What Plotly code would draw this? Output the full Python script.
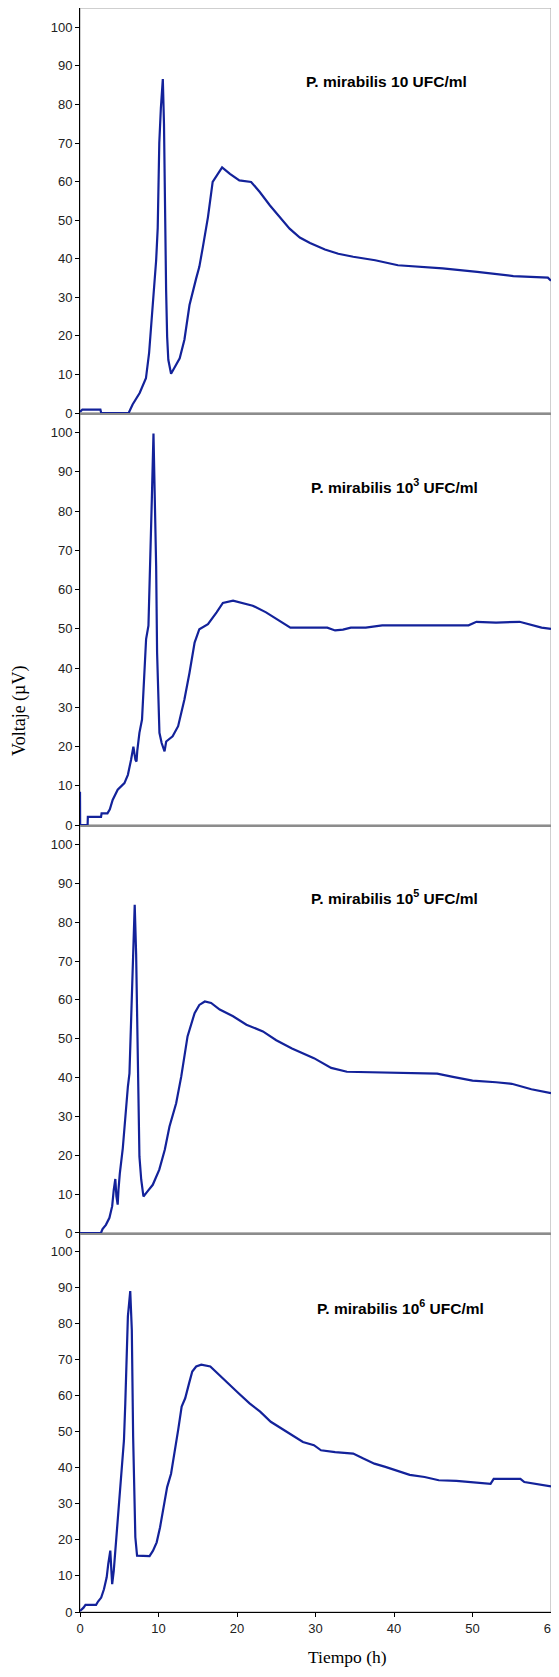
import plotly.graph_objects as go

# ---- data (time in h, voltage in µV) ----
t1 = [0, 0.3, 1.0, 2.0, 2.6, 2.7, 6.2, 6.7, 7.6, 8.4, 8.8, 9.3, 9.7, 9.9, 10.1, 10.3, 10.55, 10.7, 10.8,
      10.97, 11.1, 11.25, 11.6, 12.0, 12.7, 13.3, 13.95, 14.8, 15.2, 15.65, 16.3, 16.9, 17.8, 18.1, 19.1,
      20.3, 21.8, 22.9, 24.2, 25.4, 26.7, 28.0, 29.3, 31.2, 32.9, 34.8, 37.6, 40.5, 46.2, 50.6, 55.2, 59.6, 60]
v1 = [0.3, 0.9, 0.9, 0.8, 0.9, 0, 0, 2.2, 5.2, 9.0, 15.5, 28.9, 39.6, 48, 70, 79, 86.6, 75, 51.7,
      31.9, 19.8, 13.8, 10.2, 11.6, 14.2, 19, 28, 34.9, 37.9, 43, 50.8, 59.9, 62.9, 63.7, 62,
      60.3, 59.9, 57.3, 53.8, 50.8, 47.8, 45.5, 44.1, 42.4, 41.3, 40.5, 39.6, 38.3, 37.5, 36.6, 35.5, 35.1, 34.3]

t2 = [0, 0.02, 0.97, 1.0, 2.68, 2.75, 3.5, 3.8, 4.16, 4.8, 5.66, 6.1, 6.5, 6.8, 7.06, 7.2, 7.3, 7.57, 7.9,
      8.13, 8.42, 8.72, 8.95, 9.15, 9.36, 9.57, 9.7, 9.82, 9.95, 10.12, 10.4, 10.77, 10.98, 11.8, 12.5,
      13.3, 13.95, 14.6, 15.2, 16.3, 17.4, 18.2, 19.5, 20.8, 22.0, 23.7, 25.2, 25.9, 26.8, 31.5, 32.5,
      33.5, 34.5, 36.4, 38.5, 49.5, 50.5, 53.0, 56.0, 58.8, 60]
v2 = [8.5, 0, 0, 2.1, 2.1, 3.0, 3.0, 4.0, 6.4, 9.0, 10.7, 12.8, 16.6, 20, 16.6, 16.2, 19, 23.5, 26.9,
      36.3, 47.4, 50.8, 66, 83, 99.8, 83, 66, 44, 32, 23.5, 20.9, 18.8, 21.3, 22.6, 25.2,
      32, 38.8, 46.5, 49.9, 51.2, 54.2, 56.6, 57.2, 56.6, 55.9, 54.2, 52.3, 51.6, 50.3, 50.3, 49.6,
      49.8, 50.3, 50.3, 50.9, 50.9, 51.8, 51.6, 51.8, 50.3, 50.0]

t3 = [0, 2.67, 2.87, 3.3, 3.75, 4.1, 4.3, 4.5, 4.64, 4.8, 4.9, 5.07, 5.45, 5.8, 6.1, 6.3, 6.5, 6.65, 6.8,
      6.97, 7.15, 7.28, 7.4, 7.57, 7.8, 8.08, 8.6, 9.27, 10.1, 10.8, 11.4, 12.25, 12.9, 13.3, 13.7, 14.6,
      15.2, 15.9, 16.7, 17.8, 19.5, 21.2, 23.3, 25.0, 27.0, 29.8, 32.0, 34.0, 40.0, 45.5, 47.5, 50.0,
      53.0, 55.0, 57.5, 59.0, 60]
v3 = [0, 0, 1.0, 2.1, 3.9, 6.9, 11.1, 13.9, 9.4, 7.3, 11.1, 15.3, 21.8, 30.9, 37.7, 41.1, 55.7, 67.6, 77.1,
      84.5, 71.9, 54.9, 33.4, 19.7, 13.7, 9.4, 10.7, 12.4, 16.3, 21.4, 27.4, 33.4, 40.3, 45.5, 50.6, 56.6,
      58.7, 59.6, 59.2, 57.5, 55.8, 53.6, 51.9, 49.6, 47.5, 45.0, 42.5, 41.5, 41.2, 41.0, 40.2, 39.2,
      38.8, 38.4, 37.0, 36.5, 36.0]

t4 = [0, 0.45, 0.7, 2.05, 2.3, 2.7, 3.05, 3.4, 3.6, 3.86, 4.0, 4.1, 4.3, 4.55, 4.77, 5.1, 5.36, 5.6, 5.77,
      5.95, 6.1, 6.4, 6.6, 6.77, 6.9, 7.05, 7.27, 8.86, 9.3, 9.77, 10.2, 10.7, 11.1, 11.6, 12.05, 12.5,
      12.95, 13.4, 13.9, 14.3, 14.8, 15.45, 16.6, 17.5, 18.9, 20.2, 21.6, 22.95, 24.3, 25.7, 27.05, 28.4,
      29.8, 30.7, 32.5, 34.8, 36.1, 37.5, 38.9, 40.2, 42.0, 43.9, 45.7, 47.95, 49.8, 52.3, 52.7, 56.1,
      56.6, 58.9, 60]
v4 = [0.3, 1.2, 2.0, 2.0, 2.9, 4.0, 6.3, 9.6, 13.3, 17, 11.4, 7.7, 11.4, 18.8, 24.4, 33.7, 42, 47.6, 57.8,
      69.9, 81.9, 88.9, 78.2, 48.5, 30, 20.7, 15.6, 15.5, 17, 19.3, 23.5, 30, 34.6, 38.3, 43.9, 50.4,
      56.9, 59.2, 63.4, 66.6, 68, 68.5, 68, 66.1, 63.4, 60.6, 57.8, 55.5, 52.7, 50.8, 49, 47.1,
      46.2, 44.8, 44.3, 43.9, 42.5, 41.1, 40.2, 39.2, 38, 37.4, 36.5, 36.3, 36, 35.5, 36.9, 36.9,
      36, 35.1, 34.8]

labels = ["<b>P. mirabilis 10 UFC/ml</b>",
          "<b>P. mirabilis 10<sup>3</sup> UFC/ml</b>",
          "<b>P. mirabilis 10<sup>5</sup> UFC/ml</b>",
          "<b>P. mirabilis 10<sup>6</sup> UFC/ml</b>"]
label_pos = [(39, 86), (40, 86.5), (40, 86.5), (40.8, 84.4)]

y_ticks = list(range(0, 101, 10))
x_ticks = list(range(0, 61, 10))

series = [(t1, v1), (t2, v2), (t3, v3), (t4, v4)]
domains = [[0.7475, 1.0], [0.4906, 0.7475], [0.2363, 0.4906], [0.0, 0.2363]]

LINE = "#13229a"
FONT = "Liberation Sans, Arial, sans-serif"

fig = go.Figure()
layout = dict(
    width=551, height=1661,
    margin=dict(l=72, r=8, t=0, b=57),
    paper_bgcolor="white", plot_bgcolor="white",
    showlegend=False,
)
shapes = []
annotations = []
for i, (tt, vv) in enumerate(series):
    n = i + 1
    xa = "x" if n == 1 else f"x{n}"
    ya = "y" if n == 1 else f"y{n}"
    fig.add_trace(go.Scatter(x=tt, y=vv, mode="lines", xaxis=xa, yaxis=ya,
                             line=dict(color=LINE, width=2.2)))
    last = (n == 4)
    xkey = "xaxis" if n == 1 else f"xaxis{n}"
    ykey = "yaxis" if n == 1 else f"yaxis{n}"
    layout[xkey] = dict(
        domain=[0, 1], anchor=ya, range=[0, 60], showgrid=False, zeroline=False,
        showline=True, linecolor="black" if last else "#8c8c8c", linewidth=1 if last else 2,
        ticks="outside" if last else "", ticklen=4, tickcolor="black",
        tickvals=x_ticks if last else [], showticklabels=last,
        tickfont=dict(family=FONT, size=13, color="#222"),
    )
    layout[ykey] = dict(
        domain=domains[i], anchor=xa, range=[0, 105], showgrid=False, zeroline=False,
        showline=True, linecolor="black", linewidth=1,
        ticks="outside", ticklen=4, tickcolor="black", tickvals=y_ticks,
        tickfont=dict(family=FONT, size=13, color="#222"),
    )
    shapes.append(dict(type="rect", xref="paper", yref="paper", x0=0, x1=1,
                       y0=domains[i][0], y1=domains[i][1],
                       line=dict(color="#a0a0a0", width=1), layer="below"))
    annotations.append(dict(x=label_pos[i][0], y=label_pos[i][1], xref=xa, yref=ya,
                            text=labels[i], showarrow=False,
                            font=dict(family=FONT, size=15.5, color="black")))

annotations.append(dict(x=-0.1295, y=0.5617, xref="paper", yref="paper", text="Voltaje (µV)",
                        textangle=-90, showarrow=False, xanchor="center", yanchor="middle",
                        font=dict(family="Liberation Serif, Times New Roman, serif", size=18, color="black")))
annotations.append(dict(x=0.567, y=-0.0281, xref="paper", yref="paper", text="Tiempo (h)",
                        showarrow=False, xanchor="center", yanchor="middle",
                        font=dict(family="Liberation Serif, Times New Roman, serif", size=17.5, color="black")))
layout["shapes"] = shapes
layout["annotations"] = annotations
fig.update_layout(**layout)
fig.write_html("out.html")
